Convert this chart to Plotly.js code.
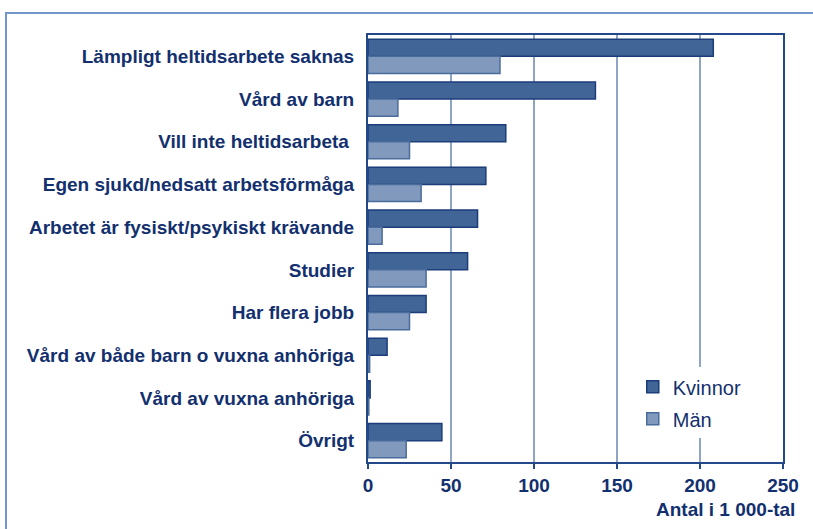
<!DOCTYPE html>
<html>
<head>
<meta charset="utf-8">
<script src="https://cdn.plot.ly/plotly-3.0.1.min.js"></script>
<style>
  html, body { margin: 0; padding: 0; background: #ffffff; }
  #wrap { position: relative; width: 813px; height: 529px; overflow: hidden; }
  #frame { position: absolute; left: 5px; top: 12px; width: 900px; height: 600px;
           border-left: 2px solid #7196c7; border-top: 2px solid #7196c7; }
  #chart { position: absolute; left: 0; top: 0; width: 813px; height: 529px; }
</style>
</head>
<body>
<div id="wrap">
  <div id="frame"></div>
  <div id="chart"></div>
</div>
<script>
const categories = [
  "Lämpligt heltidsarbete saknas",
  "Vård av barn",
  "Vill inte heltidsarbeta ",
  "Egen sjukd/nedsatt arbetsförmåga",
  "Arbetet är fysiskt/psykiskt krävande",
  "Studier",
  "Har flera jobb",
  "Vård av både barn o vuxna anhöriga",
  "Vård av vuxna anhöriga",
  "Övrigt"
];
const kvinnor = [208, 137, 83, 71, 66, 60, 35, 11.5, 1.3, 44.5];
const man = [79.5, 18, 25, 32, 8.5, 35, 25, 1, 0.5, 23];
const seriesNames = ["Kvinnor", "Män"];
const xTicks = [0, 50, 100, 150, 200, 250];
const xTitle = "Antal i 1 000-tal";

const navy = "#13306e";
const fontFam = "'Liberation Sans', Arial, sans-serif";

const traces = [
  {
    type: "bar", orientation: "h", name: seriesNames[0],
    y: categories, x: kvinnor, legendgroup: "k",
    marker: { color: "#416596", line: { color: "#1c3d7a", width: 1.5 } }
  },
  {
    type: "bar", orientation: "h", name: seriesNames[1],
    y: categories, x: man, legendgroup: "m",
    marker: { color: "#8199bd", line: { color: "#4a6c9c", width: 1.5 } }
  }
];

const layout = {
  width: 813, height: 529,
  margin: { l: 368, r: 30, t: 35, b: 67, pad: 0 },
  paper_bgcolor: "rgba(0,0,0,0)",
  plot_bgcolor: "#ffffff",
  barmode: "group",
  bargap: 0.2,
  bargroupgap: 0,
  font: { family: fontFam, color: navy, size: 19 },
  showlegend: true,
  legend: {
    x: 0.638, y: 0.222, xanchor: "left", yanchor: "top",
    bgcolor: "#ffffff", borderwidth: 0,
    traceorder: "grouped", tracegroupgap: 3,
    font: { family: fontFam, size: 20, color: navy }
  },
  xaxis: {
    range: [0, 250], tickvals: xTicks, ticktext: xTicks.map(String),
    showgrid: true, gridcolor: "#8fa5c5", gridwidth: 1.5,
    zeroline: false,
    showline: true, mirror: true, linecolor: "#24488a", linewidth: 2,
    ticks: "outside", ticklen: 5, tickwidth: 1.5, tickcolor: "#24488a",
    tickfont: { family: fontFam, size: 19, color: navy, weight: "bold" },
    fixedrange: true
  },
  yaxis: {
    type: "category", autorange: "reversed",
    showgrid: false, zeroline: false,
    showline: true, mirror: true, linecolor: "#24488a", linewidth: 2,
    ticks: "", ticklabelstandoff: 8,
    tickfont: { family: fontFam, size: 19, color: navy, weight: "bold" },
    fixedrange: true
  },
  annotations: [
    {
      text: xTitle, xref: "paper", yref: "paper",
      x: 1.034, y: -0.112, xanchor: "right", yanchor: "middle",
      showarrow: false,
      font: { family: fontFam, size: 19, color: navy, weight: "bold" }
    }
  ]
};

Plotly.newPlot("chart", traces, layout, { staticPlot: true, displayModeBar: false });
</script>
</body>
</html>
